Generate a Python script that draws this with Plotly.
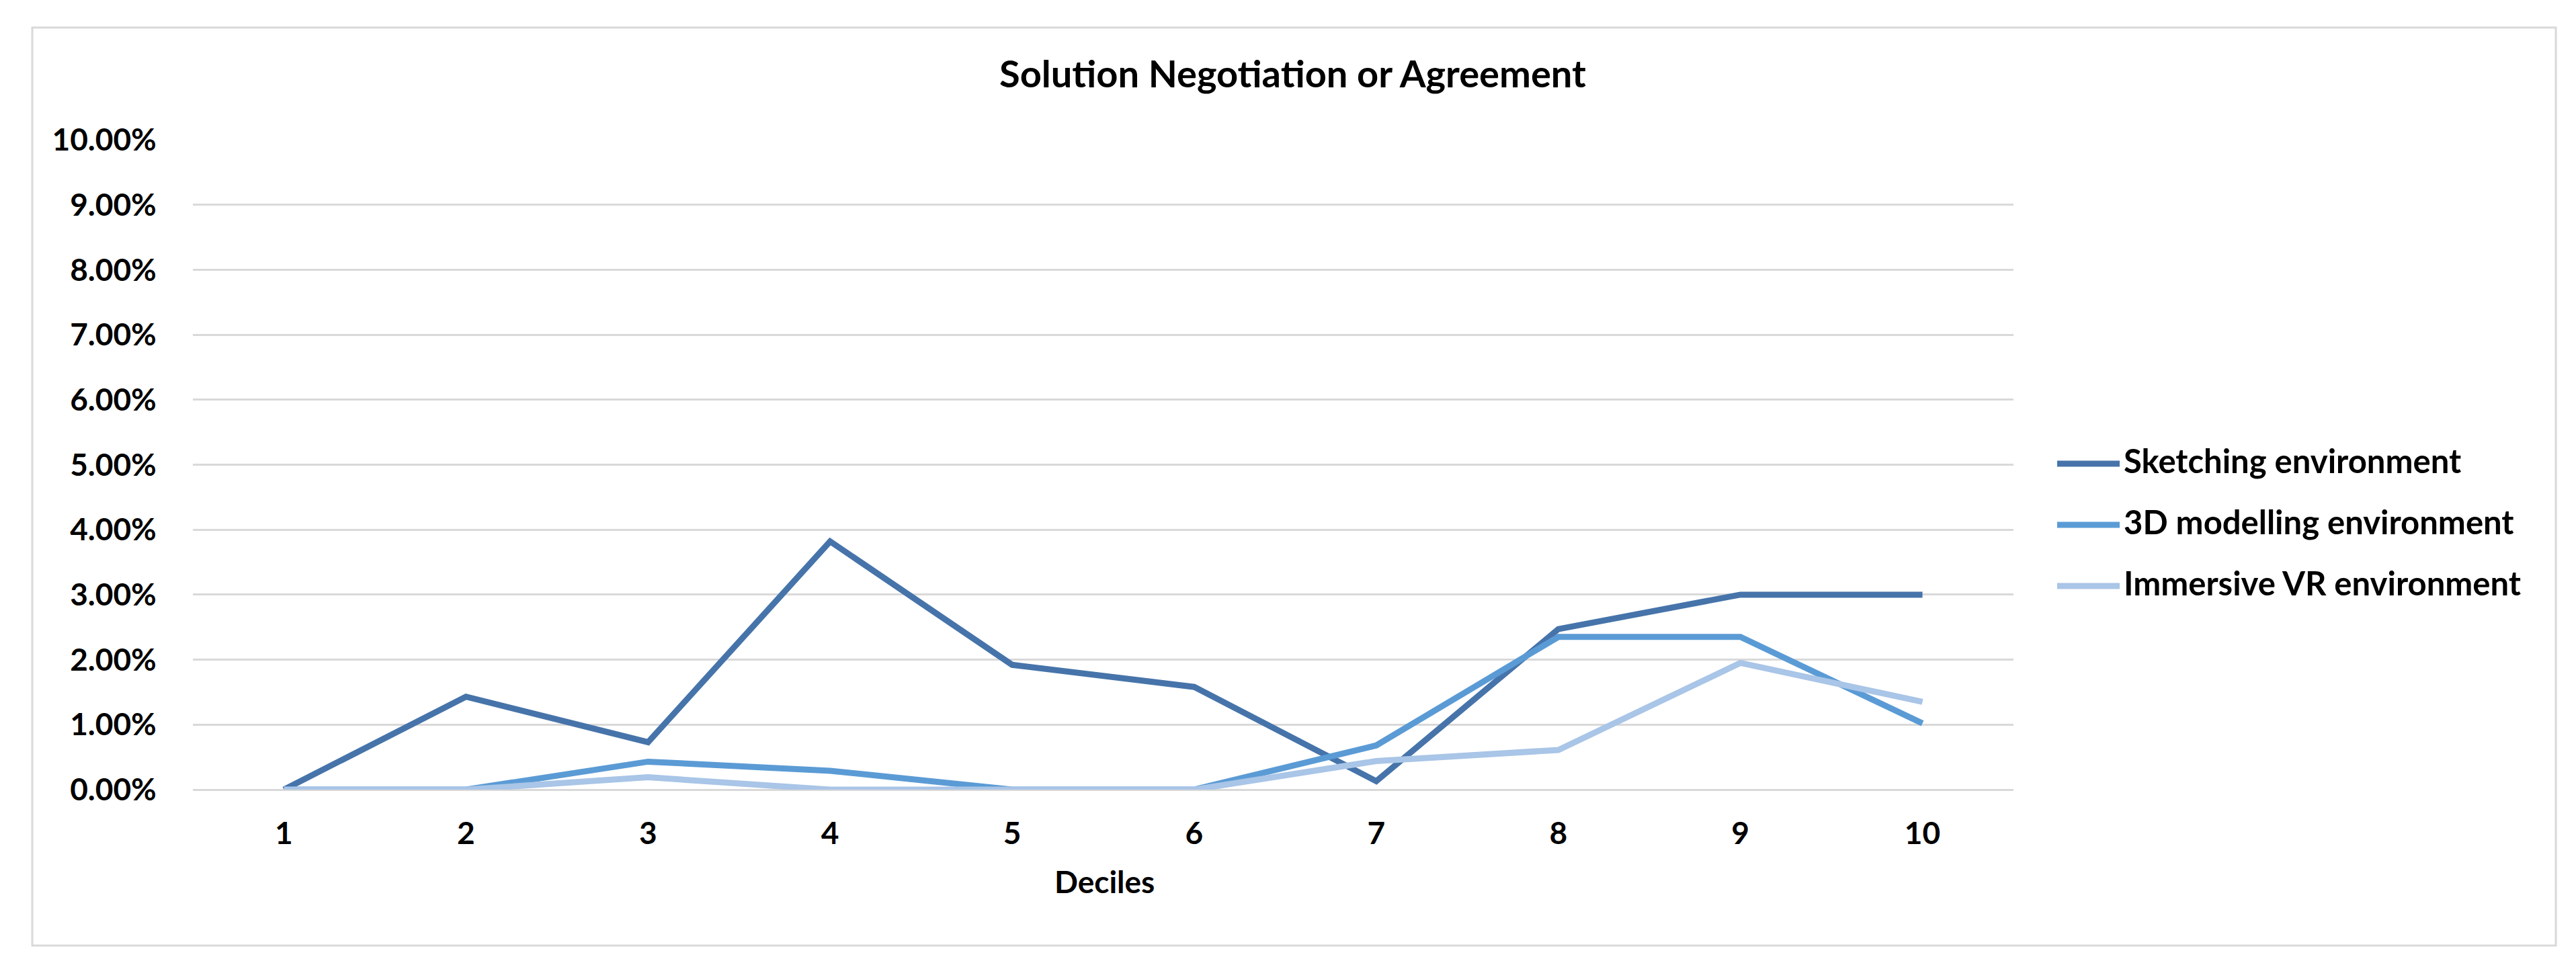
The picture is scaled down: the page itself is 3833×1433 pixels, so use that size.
import plotly.graph_objects as go

# ---- data ----
deciles = ["1", "2", "3", "4", "5", "6", "7", "8", "9", "10"]
series_names = ["Sketching environment", "3D modelling environment", "Immersive VR environment"]
sketching = [0.0, 0.0143, 0.0073, 0.0382, 0.0192, 0.0158, 0.0013, 0.0247, 0.0300, 0.0300]
modelling = [0.0, 0.0, 0.0043, 0.0029, 0.0, 0.0, 0.0068, 0.0235, 0.0235, 0.0102]
immersive = [0.0, 0.0, 0.0019, 0.0, 0.0, 0.0, 0.0044, 0.0061, 0.0195, 0.0135]
y_ticks = [0.00, 0.01, 0.02, 0.03, 0.04, 0.05, 0.06, 0.07, 0.08, 0.09, 0.10]
title_text = "Solution Negotiation or Agreement"
x_title = "Deciles"

colors = ["#4674AA", "#5B9BD5", "#A9C5E7"]
FONT = "Lato, 'Open Sans', sans-serif"

W, H = 3833, 1433
L, R, T, B = 279, 2988, 200, 1167  # plot area pixel edges
PW, PH = R - L, B - T


def px(x):
    return (x - L) / PW


def py(y):
    return (B - y) / PH


fig = go.Figure()
for name, vals, col in zip(series_names, [sketching, modelling, immersive], colors):
    fig.add_trace(go.Scatter(
        x=deciles, y=vals, name=name, mode="lines",
        line=dict(color=col, width=9), showlegend=False,
    ))

shapes = [
    dict(type="rect", xref="paper", yref="paper",
         x0=px(40), x1=px(3795), y0=py(1399), y1=py(33),
         line=dict(color="#D9D9D9", width=3), fillcolor="rgba(0,0,0,0)", layer="below"),
]
annotations = [
    dict(text=f"<b>{title_text}</b>", xref="paper", yref="paper",
         x=px(1915), y=py(100), xanchor="center", yanchor="middle",
         showarrow=False, font=dict(family=FONT, size=56, color="#000000")),
    dict(text=f"<b>{x_title}</b>", xref="paper", yref="paper",
         x=px(1635), y=py(1303), xanchor="center", yanchor="middle",
         showarrow=False, font=dict(family=FONT, size=46, color="#000000")),
]
legend_rows = [682, 773, 864]
for name, col, ry in zip(series_names, colors, legend_rows):
    shapes.append(dict(type="line", xref="paper", yref="paper",
                       x0=px(3053), x1=px(3146), y0=py(ry), y1=py(ry),
                       line=dict(color=col, width=9)))
    annotations.append(dict(text=f"<b>{name}</b>", xref="paper", yref="paper",
                            x=px(3150), y=py(ry - 5), xanchor="left", yanchor="middle",
                            showarrow=False,
                            font=dict(family=FONT, size=49, color="#000000")))

fig.update_layout(
    width=W, height=H,
    margin=dict(l=L, r=W - R, t=T, b=H - B, pad=0),
    paper_bgcolor="white", plot_bgcolor="white",
    font=dict(family=FONT, size=46, color="#000000"),
    shapes=shapes, annotations=annotations,
    showlegend=False,
)
fig.update_xaxes(
    type="category", categoryorder="array", categoryarray=deciles,
    range=[-0.5, len(deciles) - 0.5],
    showgrid=False, showline=False, zeroline=False,
    ticks="outside", ticklen=25, tickcolor="rgba(0,0,0,0)",
    tickfont=dict(family=FONT, size=46, color="#000000", weight="bold"),
)
fig.update_yaxes(
    range=[0, 0.10], tickvals=y_ticks, tickformat=".2%",
    showgrid=True, gridcolor="#D9D9D9", gridwidth=3,
    zeroline=True, zerolinecolor="#D9D9D9", zerolinewidth=3,
    showline=False,
    ticks="outside", ticklen=44, tickcolor="rgba(0,0,0,0)",
    tickfont=dict(family=FONT, size=46, color="#000000", weight="bold"),
)

fig.write_html("out.html")
